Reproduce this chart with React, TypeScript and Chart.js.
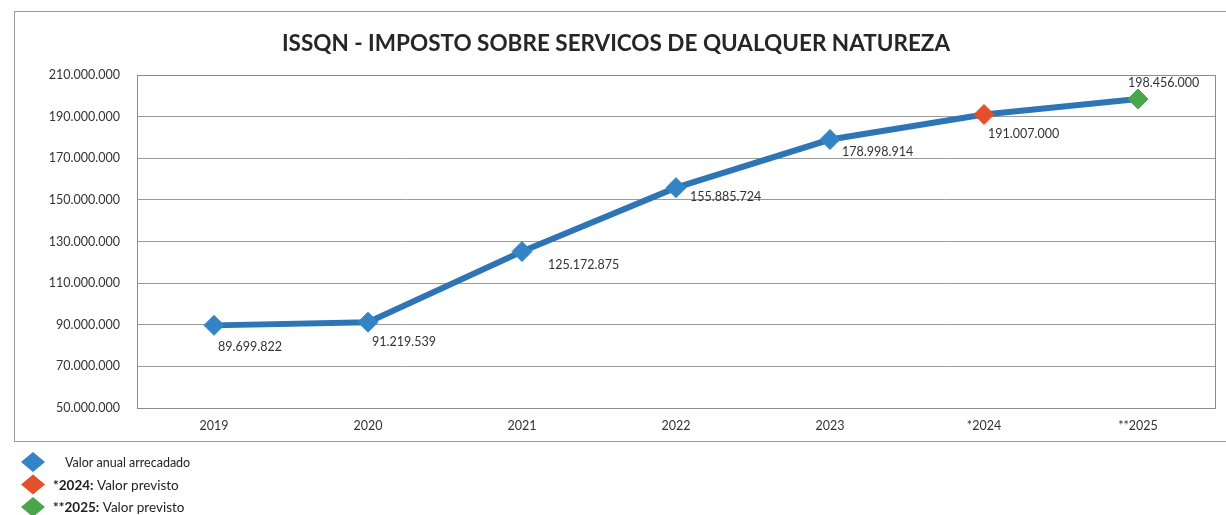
import React, { useEffect, useRef } from "react";
import { Chart, registerables } from "chart.js";

Chart.register(...registerables);

const TITLE = "ISSQN - IMPOSTO SOBRE SERVICOS DE QUALQUER NATUREZA";
const CATEGORIES = ["2019", "2020", "2021", "2022", "2023", "*2024", "**2025"];
const VALUES = [89699822, 91219539, 125172875, 155885724, 178998914, 191007000, 198456000];
const Y_MIN = 50000000;
const Y_MAX = 210000000;
const Y_STEP = 20000000;

const BLUE = "#3384c6";
const RED = "#e4502c";
const GREEN = "#4aa64a";
const LINE_COLOR = "#2e75b6";
const POINT_COLORS = [BLUE, BLUE, BLUE, BLUE, BLUE, RED, GREEN];

const LEGEND_ITEMS = [
  { color: BLUE, bold: "", text: "Valor anual arrecadado" },
  { color: RED, bold: "*2024:", text: " Valor previsto" },
  { color: GREEN, bold: "**2025:", text: " Valor previsto" },
];

// label placement relative to each point (style only)
const LABEL_DX = [4, 4, 26, 14, 12, 4, -10];
const LABEL_DY = [22, 20, 13, 9, 12, 19, -16];

const FONT = "Lato, 'Open Sans', sans-serif";

const fmt = (v: number) => String(Math.round(v)).replace(/\B(?=(\d{3})+(?!\d))/g, ".");

const decorPlugin = {
  id: "decor",
  beforeDraw(chart: any) {
    const ctx = chart.ctx;
    ctx.save();
    ctx.fillStyle = "#ffffff";
    ctx.fillRect(0, 0, chart.width, chart.height);
    // outer chart box
    ctx.strokeStyle = "#9a9a9a";
    ctx.lineWidth = 1;
    ctx.strokeRect(14.5, 11.5, 1230, 430);
    ctx.restore();
  },
  beforeDatasetsDraw(chart: any) {
    const { ctx, chartArea } = chart;
    ctx.save();
    ctx.strokeStyle = "#8c8c8c";
    ctx.lineWidth = 1;
    ctx.strokeRect(
      Math.round(chartArea.left) + 0.5,
      Math.round(chartArea.top) + 0.5,
      Math.round(chartArea.right - chartArea.left),
      Math.round(chartArea.bottom - chartArea.top)
    );
    ctx.restore();
  },
  afterDatasetsDraw(chart: any) {
    const ctx = chart.ctx;
    const meta = chart.getDatasetMeta(0);
    ctx.save();
    ctx.font = `12.5px ${FONT}`;
    ctx.fillStyle = "#333333";
    ctx.textBaseline = "middle";
    ctx.textAlign = "left";
    meta.data.forEach((pt: any, i: number) => {
      ctx.fillText(fmt(VALUES[i]), pt.x + LABEL_DX[i], pt.y + LABEL_DY[i]);
    });
    // legend
    LEGEND_ITEMS.forEach((item, i) => {
      const cy = 462 + i * 22.5;
      const cx = 33;
      ctx.beginPath();
      ctx.moveTo(cx, cy - 10);
      ctx.lineTo(cx + 12, cy);
      ctx.lineTo(cx, cy + 10);
      ctx.lineTo(cx - 12, cy);
      ctx.closePath();
      ctx.fillStyle = item.color;
      ctx.fill();
      let x = item.bold ? 53 : 65;
      ctx.fillStyle = "#222222";
      if (item.bold) {
        ctx.font = `bold 13.5px ${FONT}`;
        ctx.fillText(item.bold, x, cy + 1);
        x += ctx.measureText(item.bold).width;
        ctx.font = `13.5px ${FONT}`;
      } else {
        ctx.font = `12.5px ${FONT}`;
      }
      ctx.fillText(item.text, x, cy + 1);
    });
    ctx.restore();
  },
};

export default function App() {
  const ref = useRef<HTMLCanvasElement | null>(null);
  useEffect(() => {
    if (!ref.current) return;
    const chart = new Chart(ref.current, {
      type: "line",
      data: {
        labels: CATEGORIES,
        datasets: [
          {
            data: VALUES,
            borderColor: LINE_COLOR,
            borderWidth: 6,
            pointStyle: "rectRot",
            pointRadius: 10,
            pointBackgroundColor: POINT_COLORS,
            pointBorderColor: POINT_COLORS,
            pointBorderWidth: 1,
            tension: 0,
          },
        ],
      },
      plugins: [decorPlugin],
      options: {
        animation: false,
        responsive: false,
        layout: { padding: { left: 14, right: 8, top: 0, bottom: 0 } },
        plugins: {
          legend: { display: false },
          tooltip: { enabled: false },
          title: {
            display: true,
            text: TITLE,
            color: "#262626",
            font: { family: FONT, size: 22.5, weight: "bold" },
            padding: { top: 30, bottom: 18 },
          },
        },
        scales: {
          x: {
            offset: true,
            grid: { display: false, drawTicks: false },
            border: { display: false },
            ticks: { color: "#333333", font: { family: FONT, size: 12.5 }, padding: 10 },
            afterFit: (s: any) => {
              s.height = 107;
            },
          },
          y: {
            min: Y_MIN,
            max: Y_MAX,
            grid: { color: "#9a9a9a", drawTicks: false },
            border: { display: false },
            ticks: {
              stepSize: Y_STEP,
              color: "#333333",
              font: { family: FONT, size: 12.5 },
              padding: 17,
              callback: (v: any) => fmt(Number(v)),
            },
            afterFit: (s: any) => {
              s.width = 123;
            },
          },
        },
      },
    });
    return () => chart.destroy();
  }, []);
  return (
    <div style={{ position: "fixed", left: 0, top: 0, width: 1226, height: 515, background: "#fff" }}>
      <canvas ref={ref} width={1226} height={515} style={{ display: "block" }} />
    </div>
  );
}
